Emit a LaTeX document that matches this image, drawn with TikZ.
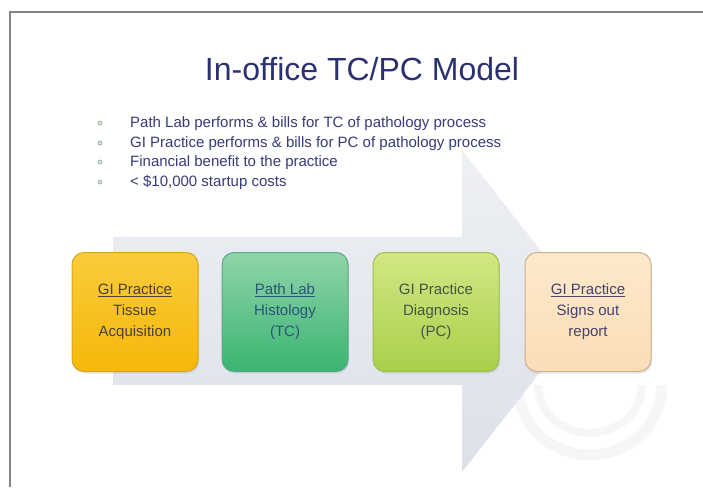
\documentclass[tikz,border=0pt]{standalone}
\usepackage{fontspec}
\setmainfont{Liberation Sans}
\usetikzlibrary{positioning,shadows}

\definecolor{framegray}{HTML}{858585}
\definecolor{titleblue}{HTML}{2B3170}
\definecolor{listblue}{HTML}{363B78}
\definecolor{dotgreen}{HTML}{9EB9A6}
\definecolor{arrowtop}{HTML}{EEF0F4}
\definecolor{arrowbot}{HTML}{DCE0E9}
\definecolor{markgray}{HTML}{F6F6F8}
\definecolor{goldtop}{HTML}{FACB3A}
\definecolor{goldbot}{HTML}{F5B80A}
\definecolor{goldline}{HTML}{D6A422}
\definecolor{goldtext}{HTML}{4A4034}
\definecolor{greentop}{HTML}{90D4AA}
\definecolor{greenbot}{HTML}{3AB472}
\definecolor{greenline}{HTML}{5AA888}
\definecolor{greentext}{HTML}{2A5478}
\definecolor{limetop}{HTML}{D2E784}
\definecolor{limebot}{HTML}{A8D04A}
\definecolor{limeline}{HTML}{9CBE50}
\definecolor{limetext}{HTML}{445446}
\definecolor{peachtop}{HTML}{FDE9CC}
\definecolor{peachbot}{HTML}{FADDB5}
\definecolor{peachline}{HTML}{CDB08E}
\definecolor{peachtext}{HTML}{43416F}

\tikzset{
  stepbox/.style={rounded corners=12pt, minimum width=126pt, minimum height=119pt,
    align=center, line width=1pt, font=\fontsize{15}{21}\selectfont,
    drop shadow={opacity=0.18, shadow xshift=1pt, shadow yshift=-2pt}},
  listitem/.style={anchor=base west, text=listblue, inner sep=0pt,
    font=\fontsize{15}{18}\selectfont},
  listdot/.style={circle, draw=dotgreen, fill=dotgreen!40, inner sep=0pt,
    minimum size=4pt, line width=0.8pt}
}

\begin{document}
\begin{tikzpicture}[x=1pt, y=-1pt]
\useasboundingbox (0,0) rectangle (703,487);

% frame
\draw[framegray, line width=2pt] (10,487) -- (10,12) -- (703,12);

% faint mark behind the last step
\begin{scope}
\clip (470,340) rectangle (680,463);
\draw[markgray, line width=11pt] (662,385) arc (0:180:72 and 70);
\draw[markgray, line width=8pt] (642,385) arc (0:180:52 and 48);
\end{scope}

% big arrow
\def\ytop{237}
\def\ybot{385}
\def\xneck{462}
\shade[top color=arrowtop, bottom color=arrowbot]
  (113,\ytop) -- (\xneck,\ytop) -- (\xneck,150) -- (588,311)
  -- (\xneck,472) -- (\xneck,\ybot) -- (113,\ybot) -- cycle;

% title
\node[anchor=base, text=titleblue, font=\fontsize{32}{36}\selectfont] (title)
  at (362,80) {In-office TC/PC Model};

% list
\def\xdot{100}
\def\xtext{130}
\node[listdot] (d1) at (\xdot,123) {};
\node[listitem] (l1) at (\xtext,127) {Path Lab performs \& bills for TC of pathology process};
\node[listdot] (d2) at (\xdot,143) {};
\node[listitem] (l2) at (\xtext,147) {GI Practice performs \& bills for PC of pathology process};
\node[listdot] (d3) at (\xdot,162) {};
\node[listitem] (l3) at (\xtext,166) {Financial benefit to the practice};
\node[listdot] (d4) at (\xdot,182) {};
\node[listitem] (l4) at (\xtext,186) {< \$10,000 startup costs};

% steps
\def\ystep{312}
\node[stepbox, top color=goldtop, bottom color=goldbot, draw=goldline,
  text=goldtext] (tissue) at (135,\ystep)
  {\underline{GI Practice}\\Tissue\\Acquisition};
\node[stepbox, top color=greentop, bottom color=greenbot, draw=greenline,
  text=greentext] (histo) at (285,\ystep)
  {\underline{Path Lab}\\Histology\\(TC)};
\node[stepbox, top color=limetop, bottom color=limebot, draw=limeline,
  text=limetext] (diag) at (436,\ystep)
  {GI Practice\\Diagnosis\\(PC)};
\node[stepbox, top color=peachtop, bottom color=peachbot, draw=peachline,
  text=peachtext] (report) at (588,\ystep)
  {\underline{GI Practice}\\Signs out\\report};
\end{tikzpicture}
\end{document}
